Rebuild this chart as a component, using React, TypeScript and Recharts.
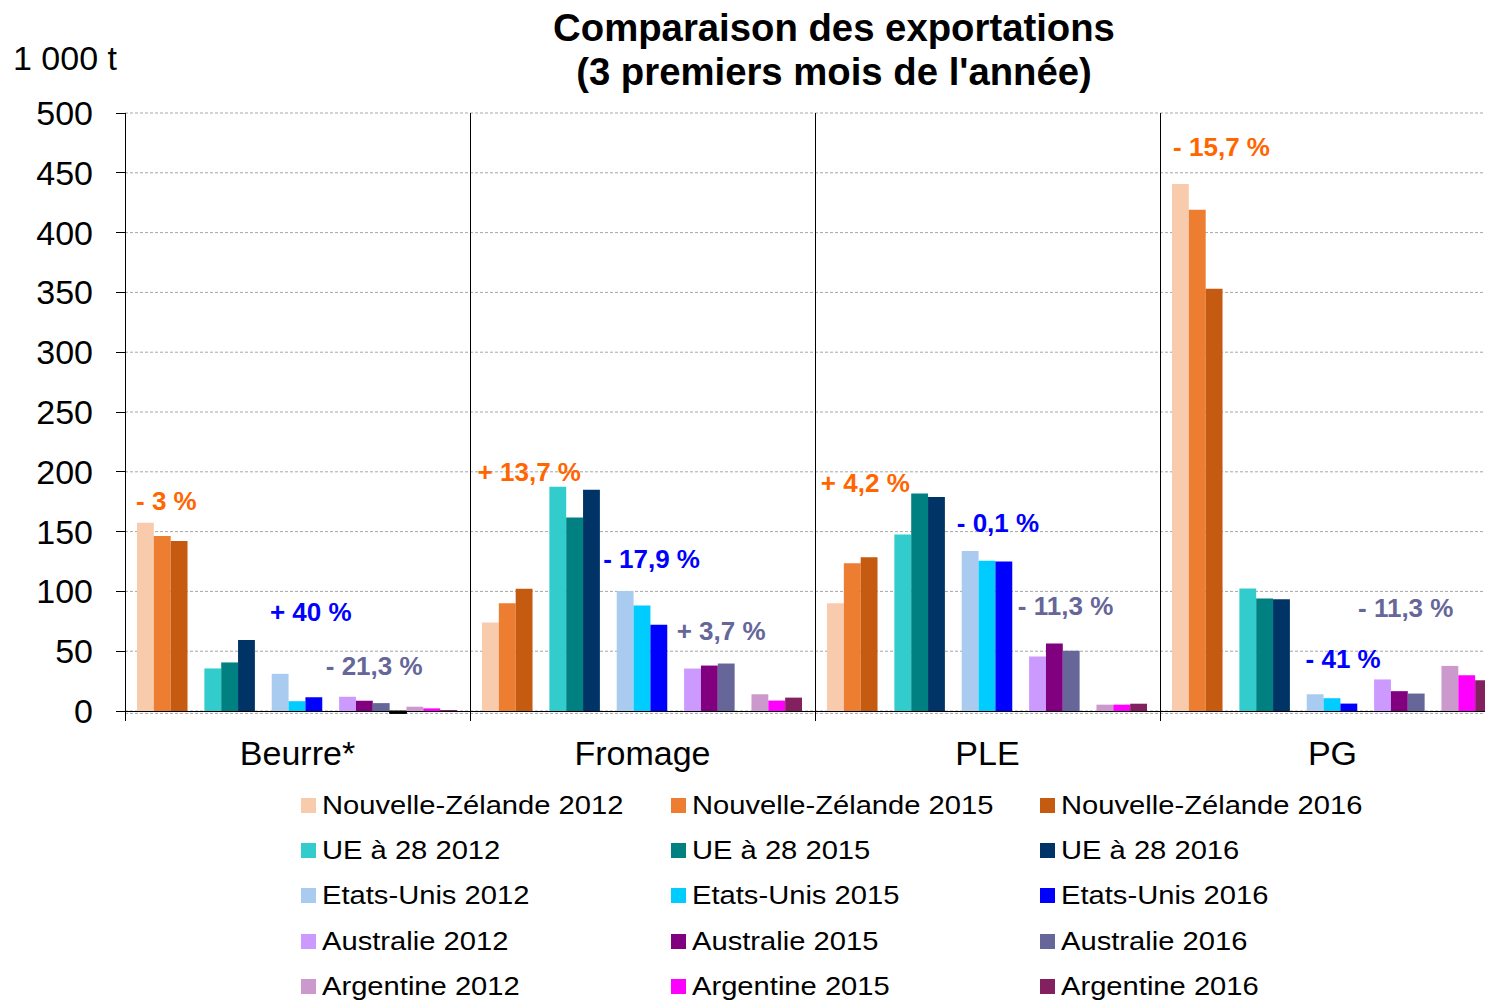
import React from "react";
import {
  BarChart,
  Bar,
  ScatterChart,
  XAxis,
  YAxis,
  CartesianGrid,
  ReferenceLine,
  ReferenceDot,
} from "recharts";

const FONT = '"Liberation Sans", Arial, sans-serif';

const categories = ["Beurre*", "Fromage", "PLE", "PG"];

// exports in 1 000 t, one value per category (Beurre*, Fromage, PLE, PG)
const nz2012 = [157.5, 74, 90, 440.6];
const nz2015 = [146.4, 90, 123.5, 419.1];
const nz2016 = [142.2, 102.2, 128.5, 353.1];
const ue2012 = [35.6, 187.4, 147.5, 102.5];
const ue2015 = [40.6, 161.7, 181.8, 94];
const ue2016 = [59.4, 184.9, 179, 93.4];
const us2012 = [31.1, 100.3, 133.8, 14];
const us2015 = [8.2, 88.3, 125.7, 10.7];
const us2016 = [11.5, 72.1, 125.1, 6.2];
const aus2012 = [11.9, 35.5, 45.5, 26.4];
const aus2015 = [8.6, 38, 56.4, 16.6];
const aus2016 = [6.6, 39.7, 50.3, 14.6];
const arg2012 = [3.6, 14, 5.3, 37.7];
const arg2015 = [2.2, 8.7, 5.3, 29.9];
const arg2016 = [0.8, 11.2, 6.1, 25.7];
// empty columns between the country groups (the last one has a small negative value in Beurre)
const blank = [0, 0, 0, 0];
const blankLast = [-2, 0, 0, 0];

const yTicks = [0, 50, 100, 150, 200, 250, 300, 350, 400, 450, 500];
const boundaries = [0, 1, 2, 3];

const ORANGE = "#FF6600";
const BLUE = "#0000FF";
const SLATE = "#666699";

const series = [
  { key: "nz2012", name: "Nouvelle-Zélande 2012", color: "#F8CBAD", values: nz2012 },
  { key: "nz2015", name: "Nouvelle-Zélande 2015", color: "#ED7D31", values: nz2015 },
  { key: "nz2016", name: "Nouvelle-Zélande 2016", color: "#C55A11", values: nz2016 },
  { key: "gap1", name: "", color: "none", values: blank, spacer: true },
  { key: "ue2012", name: "UE à 28 2012", color: "#33CCCC", values: ue2012 },
  { key: "ue2015", name: "UE à 28 2015", color: "#008080", values: ue2015 },
  { key: "ue2016", name: "UE à 28 2016", color: "#003366", values: ue2016 },
  { key: "gap2", name: "", color: "none", values: blank, spacer: true },
  { key: "us2012", name: "Etats-Unis 2012", color: "#A9CBEF", values: us2012 },
  { key: "us2015", name: "Etats-Unis 2015", color: "#00CCFF", values: us2015 },
  { key: "us2016", name: "Etats-Unis 2016", color: "#0000FF", values: us2016 },
  { key: "gap3", name: "", color: "none", values: blank, spacer: true },
  { key: "aus2012", name: "Australie 2012", color: "#CC99FF", values: aus2012 },
  { key: "aus2015", name: "Australie 2015", color: "#800080", values: aus2015 },
  { key: "aus2016", name: "Australie 2016", color: "#666699", values: aus2016 },
  { key: "gap4", name: "", color: "#000000", values: blankLast, spacer: true },
  { key: "arg2012", name: "Argentine 2012", color: "#CC99CC", values: arg2012 },
  { key: "arg2015", name: "Argentine 2015", color: "#FF00FF", values: arg2015 },
  { key: "arg2016", name: "Argentine 2016", color: "#822060", values: arg2016 },
];

// evolution labels: x in category units from the left edge, y in 1 000 t
const notes = [
  { text: "- 3 %", color: ORANGE, x: 0.032, y: 176 },
  { text: "+ 40 %", color: BLUE, x: 0.42, y: 82.4 },
  { text: "- 21,3 %", color: SLATE, x: 0.582, y: 37.6 },
  { text: "+ 13,7 %", color: ORANGE, x: 1.022, y: 200 },
  { text: "- 17,9 %", color: BLUE, x: 1.386, y: 126.7 },
  { text: "+ 3,7 %", color: SLATE, x: 1.599, y: 67 },
  { text: "+ 4,2 %", color: ORANGE, x: 2.017, y: 190.8 },
  { text: "- 0,1 %", color: BLUE, x: 2.411, y: 157.2 },
  { text: "- 11,3 %", color: SLATE, x: 2.588, y: 88 },
  { text: "- 15,7 %", color: ORANGE, x: 3.038, y: 471.5 },
  { text: "- 41 %", color: BLUE, x: 3.422, y: 43.3 },
  { text: "- 11,3 %", color: SLATE, x: 3.574, y: 85.9 },
];

const data = categories.map((name, i) => {
  const row: Record<string, string | number> = { name };
  series.forEach((s) => (row[s.key] = s.values[i]));
  return row;
});

const W = 1520;
const H = 780;
const MARGIN = { top: 113, right: 15, bottom: 0, left: 0 };
const X_AXIS_H = 66.6;
const Y_AXIS_W = 125;
const BAR = 320 / 19;

function Legend() {
  const items = series.filter((s) => !s.spacer);
  return (
    <>
      {items.map((s, i) => (
        <div
          key={s.key}
          style={{
            position: "absolute",
            left: 301 + (i % 3) * 369.5,
            top: 785 + Math.floor(i / 3) * 45.4,
            height: 40,
            display: "flex",
            alignItems: "center",
            whiteSpace: "nowrap",
          }}
        >
          <span style={{ width: 15, height: 15, background: s.color, marginRight: 6 }} />
          <span
            style={{
              fontSize: 26.5,
              transform: "scaleX(1.1)",
              transformOrigin: "left center",
              color: "#000",
            }}
          >
            {s.name}
          </span>
        </div>
      ))}
    </>
  );
}

export default function App() {
  return (
    <div
      style={{
        position: "fixed",
        left: 0,
        top: 0,
        width: 1485,
        height: 1001,
        overflow: "hidden",
        background: "#fff",
        fontFamily: FONT,
      }}
    >
      <div
        style={{
          position: "absolute",
          left: 834,
          top: 6,
          transform: "translateX(-50%)",
          textAlign: "center",
          whiteSpace: "nowrap",
          fontSize: 38.3,
          lineHeight: "44px",
          fontWeight: 700,
          color: "#000",
        }}
      >
        Comparaison des exportations
        <br />
        (3 premiers mois de l'année)
      </div>
      <div style={{ position: "absolute", left: 13, top: 41, fontSize: 34, lineHeight: "34px", color: "#000" }}>
        1 000 t
      </div>
      <div style={{ position: "absolute", left: 0, top: 0 }}>
        <BarChart width={W} height={H} data={data} margin={MARGIN} barGap={0} barCategoryGap={12}>
          <CartesianGrid vertical={false} stroke="#A6A6A6" strokeDasharray="3 2" />
          <XAxis
            dataKey="name"
            axisLine={false}
            tickLine={false}
            tickSize={0}
            tickMargin={27.5}
            height={X_AXIS_H}
            interval={0}
            tick={{ fontSize: 34, fill: "#000", fontFamily: FONT }}
          />
          <YAxis
            domain={[-2, 500]}
            ticks={yTicks}
            width={Y_AXIS_W}
            interval={0}
            axisLine={{ stroke: "#000", shapeRendering: "crispEdges" }}
            tickLine={{ stroke: "#000", shapeRendering: "crispEdges" }}
            tickSize={9}
            tickMargin={23}
            tick={{ fontSize: 34, fill: "#000", fontFamily: FONT }}
          />
          {series.map((s) => (
            <Bar
              key={s.key}
              dataKey={s.key}
              fill={s.color}
              stroke={s.key === "gap4" ? "#000" : "none"}
              barSize={BAR}
              isAnimationActive={false}
            />
          ))}
          <ReferenceLine y={0} stroke="#000" shapeRendering="crispEdges" />
        </BarChart>
      </div>
      {/* overlay with a numeric x axis (0..4 = category edges) for separators and evolution labels */}
      <div style={{ position: "absolute", left: 0, top: 0, pointerEvents: "none" }}>
        <ScatterChart
          width={W}
          height={H}
          margin={{ top: MARGIN.top, right: MARGIN.right, bottom: X_AXIS_H, left: Y_AXIS_W }}
          style={{ background: "transparent" }}
        >
          <XAxis xAxisId="num" type="number" dataKey="x" domain={[0, 4]} allowDataOverflow hide />
          <YAxis yAxisId="num" type="number" dataKey="y" domain={[-2, 500]} allowDataOverflow hide />
          {boundaries.map((b) => (
            <ReferenceLine
              key={b}
              xAxisId="num"
              yAxisId="num"
              segment={[
                { x: b, y: 500 },
                { x: b, y: -8 },
              ]}
              stroke="#000"
              shapeRendering="crispEdges"
              ifOverflow="visible"
            />
          ))}
          {notes.map((n, i) => (
            <ReferenceDot
              key={i}
              xAxisId="num"
              yAxisId="num"
              x={n.x}
              y={n.y}
              r={0}
              ifOverflow="visible"
              shape={(p: any) => (
                <text
                  x={p.cx}
                  y={p.cy}
                  dominantBaseline="central"
                  textAnchor="start"
                  fontSize={26}
                  fontWeight={700}
                  fontFamily={FONT}
                  fill={n.color}
                >
                  {n.text}
                </text>
              )}
            />
          ))}
        </ScatterChart>
      </div>
      <Legend />
    </div>
  );
}
